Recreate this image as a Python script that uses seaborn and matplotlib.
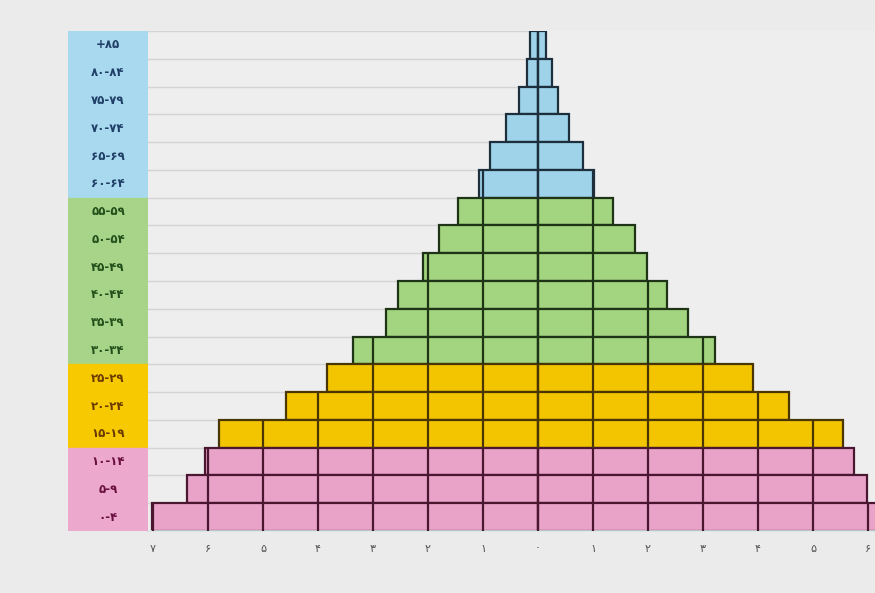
import numpy as np
import pandas as pd
import seaborn as sns
import matplotlib.pyplot as plt

sns.set_theme(style='white')
plt.rcParams['font.family'] = ['DejaVu Sans', 'Noto Sans']

# %%
ages = ['+۸۵', '۸۰-۸۴', '۷۵-۷۹', '۷۰-۷۴', '۶۵-۶۹', '۶۰-۶۴', '۵۵-۵۹', '۵۰-۵۴', '۴۵-۴۹',
        '۴۰-۴۴', '۳۵-۳۹', '۳۰-۳۴', '۲۵-۲۹', '۲۰-۲۴', '۱۵-۱۹', '۱۰-۱۴', '۵-۹', '۰-۴']
left_vals = [0.14, 0.20, 0.34, 0.59, 0.88, 1.07, 1.45, 1.80, 2.09,
             2.54, 2.77, 3.36, 3.84, 4.59, 5.80, 6.05, 6.39, 7.02]
right_vals = [0.15, 0.26, 0.37, 0.56, 0.81, 1.02, 1.37, 1.76, 1.98,
              2.35, 2.72, 3.22, 3.91, 4.57, 5.54, 5.74, 5.98, 6.50]
groups = ['old'] * 6 + ['mid'] * 6 + ['young'] * 3 + ['child'] * 3
tick_vals = list(range(-7, 7))

bar_col = {'old': '#9fd3ea', 'mid': '#a3d47f', 'young': '#f3c500', 'child': '#e9a3c9'}
lab_col = {'old': '#a9d9ee', 'mid': '#a8d48a', 'young': '#f7c900', 'child': '#eca8cd'}
edge_col = {'old': '#1d2f3c', 'mid': '#1f3316', 'young': '#4a3505', 'child': '#4a1630'}
txt_col = {'old': '#1f3f66', 'mid': '#23501a', 'young': '#6b3a00', 'child': '#6a1040'}

df = pd.DataFrame({'age': ages, 'left': left_vals, 'right': right_vals, 'group': groups})
fa = str.maketrans('0123456789', '۰۱۲۳۴۵۶۷۸۹')

# %%
fig = plt.figure(figsize=(8.75, 5.93), dpi=100, facecolor='#ebebeb')
bottom, height = 1 - 531 / 593, 500 / 593
ax = fig.add_axes([147 / 875, bottom, 728 / 875, height])
ax.set_facecolor('#eeeeee')

for side, sign in [('left', -1), ('right', 1)]:
    sns.barplot(x=sign * df[side], y=df['age'], hue=df['group'], palette=bar_col,
                dodge=False, width=1.0, orient='h', legend=False, ax=ax,
                linewidth=1.6, edgecolor='#222222', saturation=1)

face2edge = {tuple(np.round(plt.matplotlib.colors.to_rgba(bar_col[g]), 3)): edge_col[g] for g in bar_col}
for p in ax.patches:
    key = tuple(np.round(p.get_facecolor(), 3))
    if key in face2edge:
        p.set_edgecolor(face2edge[key])

xlo, xhi = -391 / 55, 337 / 55
ax.set_xlim(xlo, xhi)
ax.set_ylim(len(ages) - 0.5, -0.5)

# light row separators on the left side
ax.hlines(np.arange(-0.5, len(ages)), xlo, 0, color='#d4d4d4', lw=1.0, zorder=0.5)

# unit lines drawn across the bars
for i, r in df.iterrows():
    ks = [k for k in range(-8, 8) if -r['left'] < k < r['right']]
    ax.vlines(ks, i - 0.5, i + 0.5, color=edge_col[r['group']], lw=1.6, zorder=3)

ax.set_xticks(tick_vals)
ax.set_xticklabels([str(abs(t)).translate(fa) for t in tick_vals], fontsize=8, color='#555555')
ax.tick_params(axis='x', length=0, pad=9)
ax.set_yticks([])
ax.set_xlabel('')
ax.set_ylabel('')
for s in ['top', 'right', 'left']:
    ax.spines[s].set_visible(False)
ax.spines['bottom'].set_color('#d6e6e4')
ax.spines['bottom'].set_linewidth(1.2)

# coloured age column
ax_lab = fig.add_axes([68 / 875, bottom, 80 / 875, height])
cols = [lab_col[g] for g in groups]
ax_lab.barh(range(len(ages)), 1, height=1.0, color=cols, edgecolor=cols, linewidth=1.0)
for i, (a, g) in enumerate(zip(ages, groups)):
    ax_lab.text(0.5, i, a, ha='center', va='center', fontsize=8.5, fontweight='bold',
                color=txt_col[g])
ax_lab.set_xlim(0, 1)
ax_lab.set_ylim(len(ages) - 0.5, -0.5)
ax_lab.axis('off')

plt.savefig('out.png', dpi=100, facecolor=fig.get_facecolor())
